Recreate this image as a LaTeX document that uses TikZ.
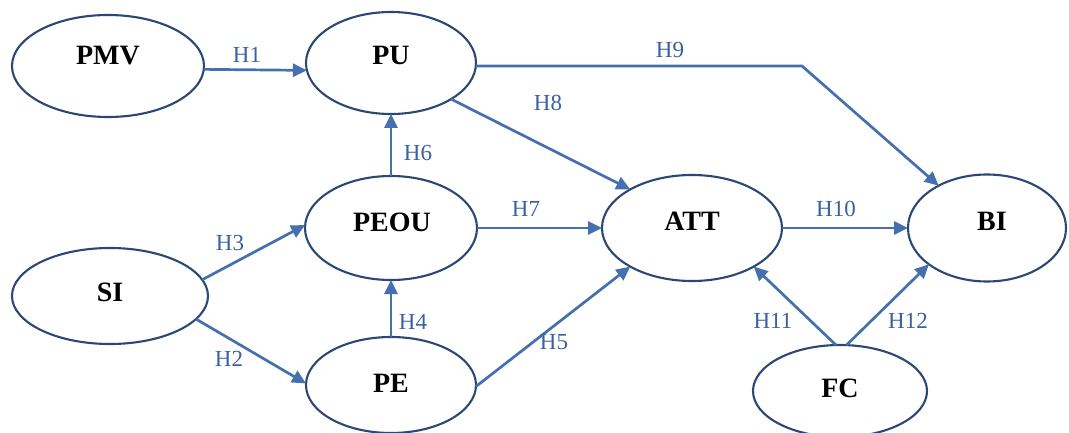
\documentclass[tikz,border=0pt]{standalone}
\usepackage{fontspec}
\setmainfont{Liberation Serif}
\usetikzlibrary{shapes.geometric,arrows.meta}
\definecolor{linkblue}{HTML}{4470B0}
\definecolor{ovalline}{HTML}{2C4775}
\definecolor{hypblue}{HTML}{3B62A0}
\begin{document}
\begin{tikzpicture}[x=1pt,y=-1pt,
  oval/.style={ellipse, draw=ovalline, line width=2.1pt, inner sep=0pt, outer sep=0pt},
  construct/.style={font=\fontsize{28}{32}\selectfont\bfseries, text=black, inner sep=0pt},
  link/.style={draw=linkblue, line width=2.7pt, -{Triangle[length=14pt,width=13pt]}},
  hyp/.style={font=\fontsize{23}{27}\selectfont, text=hypblue, inner sep=0pt}]
\useasboundingbox[fill=white] (0,0) rectangle (1069,433);

% constructs
\node[oval, minimum width=192pt, minimum height=102pt] (pmv)  at (108,66)  {};
\node[oval, minimum width=170pt, minimum height=102pt] (pu)   at (391,63)  {};
\node[oval, minimum width=172pt, minimum height=104pt] (peou) at (391,228) {};
\node[oval, minimum width=196pt, minimum height=96pt]  (si)   at (110,296) {};
\node[oval, minimum width=170pt, minimum height=96pt]  (pe)   at (391,385) {};
\node[oval, minimum width=180pt, minimum height=106pt] (att)  at (692,228) {};
\node[oval, minimum width=158pt, minimum height=107pt] (bi)   at (987,228) {};
\node[oval, minimum width=174pt, minimum height=92pt]  (fc)   at (840,391) {};

\node[construct] (pmvt)  at (108,56)  {PMV};
\node[construct] (put)   at (391,55)  {PU};
\node[construct] (peout) at (392,222) {PEOU};
\node[construct] (sit)   at (110,292) {SI};
\node[construct] (pet)   at (391,383) {PE};
\node[construct] (attt)  at (692,221) {ATT};
\node[construct] (bit)   at (992,221) {BI};
\node[construct] (fct)   at (840,388) {FC};

% hypothesised paths
\coordinate (h9bend) at (802,66);
\draw[link] (pmv.-2.4) -- (pu.185);
\draw[link] (h9bend -| pu.east) -- (h9bend) -- (bi);
\draw[link] (pu.-31) -- (att.148);
\draw[link] (peou.north) -- (pu.south);
\draw[link] (peou) -- (att);
\draw[link] (si.10) -- (peou.178);
\draw[link] (si.-15) -- (pe.179);
\draw[link] (pe.north) -- (peou.south);
\draw[link] (pe.-1) -- (att.212);
\draw[link] (att) -- (bi);
\draw[link] (fc.95) -- (att.-32);
\draw[link] (fc.82) -- (bi.212);

% hypothesis labels
\node[hyp] (l1)  at (247,55)  {H1};
\node[hyp] (l9)  at (670,50)  {H9};
\node[hyp] (l8)  at (548,103) {H8};
\node[hyp] (l6)  at (418,153) {H6};
\node[hyp] (l7)  at (526,209) {H7};
\node[hyp] (l3)  at (230,243) {H3};
\node[hyp] (l2)  at (229,359) {H2};
\node[hyp] (l4)  at (413,322) {H4};
\node[hyp] (l5)  at (554,342) {H5};
\node[hyp] (l10) at (836,209) {H10};
\node[hyp] (l11) at (773,321) {H11};
\node[hyp] (l12) at (908,321) {H12};
\end{tikzpicture}
\end{document}
